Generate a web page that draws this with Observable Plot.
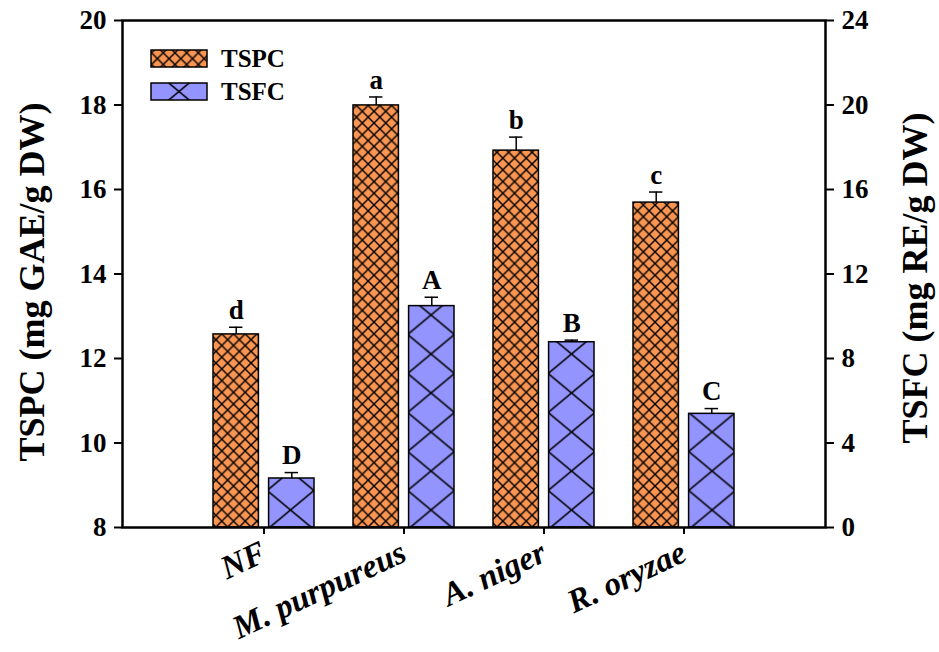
<!DOCTYPE html>
<html><head><meta charset="utf-8">
<script src="https://cdn.jsdelivr.net/npm/d3@7"></script>
<script src="https://cdn.jsdelivr.net/npm/@observablehq/plot@0.6"></script>
<style>body{margin:0;background:#fff}</style>
</head><body><div id="chart"></div>
<script>
// ---- data ----
const categories = ["NF", "M. purpureus", "A. niger", "R. oryzae"];
const seriesNames = ["TSPC", "TSFC"];
const tspc = [12.57, 17.99, 16.92, 15.69];
const tspcErr = [0.17, 0.20, 0.32, 0.25];
const tspcLetters = ["d", "a", "b", "c"];
const tsfc = [2.32, 10.48, 8.77, 5.38];
const tsfcErr = [0.28, 0.42, 0.10, 0.25];
const tsfcLetters = ["D", "A", "B", "C"];
const leftTicks = [8, 10, 12, 14, 16, 18, 20];
const rightTicks = [0, 4, 8, 12, 16, 20, 24];
const leftDomain = [8, 20];
const rightDomain = [0, 24];
const leftTitle = "TSPC (mg GAE/g DW)";
const rightTitle = "TSFC (mg RE/g DW)";

// ---- helpers ----
const toLeft = v => leftDomain[0] + (v - rightDomain[0]) * (leftDomain[1] - leftDomain[0]) / (rightDomain[1] - rightDomain[0]);
const fromLeft = v => rightDomain[0] + (v - leftDomain[0]) * (rightDomain[1] - rightDomain[0]) / (leftDomain[1] - leftDomain[0]);

const A = categories.map((c, i) => ({cat: c, v: tspc[i], top: tspc[i] + tspcErr[i], letter: tspcLetters[i]}));
const B = categories.map((c, i) => ({cat: c, v: toLeft(tsfc[i]), top: toLeft(tsfc[i] + tsfcErr[i]), letter: tsfcLetters[i]}));

const W = 939, H = 652, ML = 122, MR = 114, MT = 20, MB = 125;
const FONT = "'Liberation Serif','Times New Roman',Times,serif";
const ORANGE = "#FA9552", BLUE = "#9494FF";
const PI = 0.277, PO = 0.64;
const xs = Plot.scale({x: {type: "band", domain: categories, range: [ML, W - MR], paddingInner: PI, paddingOuter: PO, align: 0.5}});
const bw = xs.bandwidth, step = xs.step;
const barW = 46;
const inset = bw - barW;
const off = (bw - barW) / 2;
const capW = 14;

const plot = Plot.plot({
  width: W, height: H,
  marginLeft: ML, marginRight: MR, marginTop: MT, marginBottom: MB,
  style: {fontFamily: FONT, fontWeight: "bold", color: "#000", background: "#fff", overflow: "visible"},
  x: {type: "band", domain: categories, paddingInner: PI, paddingOuter: PO, align: 0.5, label: null},
  y: {domain: leftDomain, label: null},
  marks: [
    Plot.barY(A, {x: "cat", y1: leftDomain[0], y2: "v", insetRight: inset, fill: "url(#hatchTSPC)", stroke: "#000", strokeWidth: 1.5}),
    Plot.barY(B, {x: "cat", y1: leftDomain[0], y2: "v", insetLeft: inset, fill: "url(#hatchTSFC)", stroke: "#000", strokeWidth: 1.5}),
    Plot.ruleX(A, {x: "cat", y1: "v", y2: "top", dx: -off, stroke: "#000", strokeWidth: 1.5}),
    Plot.ruleX(B, {x: "cat", y1: "v", y2: "top", dx: off, stroke: "#000", strokeWidth: 1.5}),
    Plot.tickY(A, {x: "cat", y: "top", insetLeft: barW / 2 - capW / 2, insetRight: bw - barW / 2 - capW / 2, stroke: "#000", strokeWidth: 1.5}),
    Plot.tickY(B, {x: "cat", y: "top", insetLeft: inset + barW / 2 - capW / 2, insetRight: barW / 2 - capW / 2, stroke: "#000", strokeWidth: 1.5}),
    Plot.text(A, {x: "cat", y: "top", text: "letter", dx: -off, dy: -17, fontSize: 27, fontWeight: "bold"}),
    Plot.text(B, {x: "cat", y: "top", text: "letter", dx: off, dy: -17, fontSize: 27, fontWeight: "bold"}),
    Plot.axisY({anchor: "left", ticks: leftTicks, tickSize: 8, tickPadding: 8, fontSize: 27, strokeWidth: 2, label: null}),
    Plot.axisY({anchor: "right", ticks: rightTicks.map(toLeft), tickFormat: d => String(Math.round(fromLeft(d))), tickSize: 8, tickPadding: 8, fontSize: 27, strokeWidth: 2, label: null}),
    Plot.axisX({tickRotate: -25, tickSize: 7, tickPadding: 16, fontSize: 33, fontStyle: "italic", strokeWidth: 2, label: null}),
    Plot.frame({stroke: "#000", strokeWidth: 2.5}),
    Plot.text([leftTitle], {text: d => d, frameAnchor: "left", textAnchor: "middle", rotate: -90, dx: -90, dy: 8, fontSize: 36, fontWeight: "bold"}),
    Plot.text([rightTitle], {text: d => d, frameAnchor: "right", textAnchor: "middle", rotate: -90, dx: 90, dy: 4, fontSize: 36, fontWeight: "bold"})
  ]
});

// ---- hatch patterns ----
const svg = d3.select(plot);
const defs = svg.insert("defs", ":first-child");
const y0 = H - MB;
function xPattern(id, w, h, px, py, fill, sw) {
  const p = defs.append("pattern").attr("id", id).attr("patternUnits", "userSpaceOnUse")
    .attr("width", w).attr("height", h).attr("x", px).attr("y", py);
  p.append("rect").attr("width", w).attr("height", h).attr("fill", fill);
  p.append("path").attr("d", `M${-w},${-h}L${2 * w},${2 * h}M${-w},${2 * h}L${2 * w},${-h}`)
    .attr("stroke", "#000").attr("stroke-width", sw).attr("fill", "none");
}
const s1 = step / 12;
xPattern("hatchTSPC", s1, s1, xs.apply(categories[0]) + 4, y0, ORANGE, 1.4);
const w2 = step / 3, h2 = 39;
const tsfcCenter = xs.apply(categories[0]) + inset + barW / 2;
xPattern("hatchTSFC", w2, h2, tsfcCenter - w2 / 2, y0 - 17 - h2 / 2, BLUE, 1.6);

// ---- legend ----
const lgX = ML + 29, lgW = 56, lgH = 17;
const lgRows = [{name: seriesNames[0], y: 50, fill: "url(#hatchTSPC)"}, {name: seriesNames[1], y: 83, fill: "url(#hatchLegTSFC)"}];
xPattern("hatchLegTSFC", w2, h2, lgX + lgW / 2 - w2 / 2, 83 + lgH / 2 - h2 / 2, BLUE, 1.6);
const lg = svg.append("g");
lgRows.forEach(r => {
  lg.append("rect").attr("x", lgX).attr("y", r.y).attr("width", lgW).attr("height", lgH)
    .attr("fill", r.fill).attr("stroke", "#000").attr("stroke-width", 1.5);
  lg.append("text").attr("x", lgX + lgW + 14).attr("y", r.y + lgH / 2).attr("dy", "0.35em")
    .attr("text-anchor", "start")
    .attr("font-size", 25).attr("font-weight", "bold").attr("font-family", FONT).text(r.name);
});

document.getElementById("chart").appendChild(plot);
</script>
</body></html>
